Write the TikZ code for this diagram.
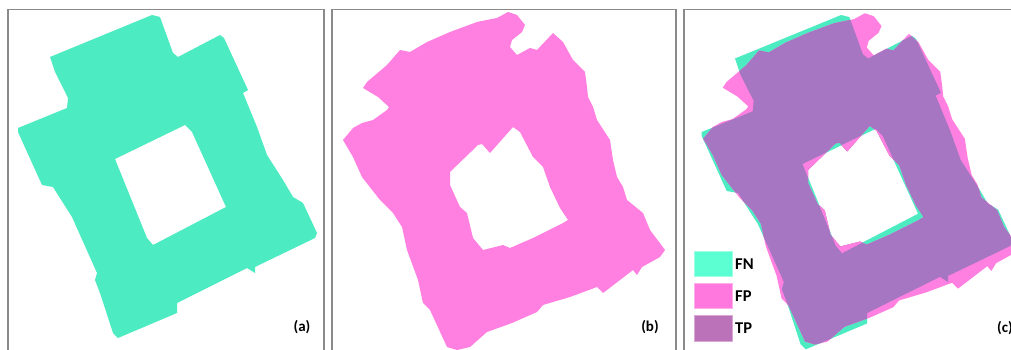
\documentclass[tikz,border=0pt]{standalone}
\usepackage{fontspec}
\setmainfont{Carlito}
\definecolor{tealA}{HTML}{4DEBC1}
\definecolor{pinkB}{HTML}{FF80E0}
\definecolor{purpC}{HTML}{A676C2}
\definecolor{legFN}{HTML}{5BFFD2}
\definecolor{legFP}{HTML}{FF78DD}
\definecolor{legTP}{HTML}{BB72B9}
\definecolor{frameC}{HTML}{8A8A8A}
\tikzset{
  shapeAout/.style={insert path={
    (50,57) -- (152,15) -- (160,17) -- (173,53) -- (178,57) -- (220,35) -- (224,38)
    -- (248,90) -- (243,93) -- (257,127) -- (267,155) -- (283,180) -- (293,197)
    -- (303,203) -- (317,233) -- (315,238) -- (255,267) -- (255,273) -- (247,268)
    -- (177,303) -- (177,313) -- (118,338) -- (113,333) -- (100,293) -- (95,280)
    -- (97,273) -- (72,217) -- (58,195) -- (53,187) -- (42,185) -- (18,132)
    -- (18,128) -- (67,108) -- (68,98) -- (55,72) -- cycle}},
  shapeAhole/.style={insert path={
    (115,159) -- (185,125) -- (192,132) -- (226,207) -- (153,245) -- (147,238) -- cycle}},
  shapeB/.style={insert path={
    (508,12) -- (517,15) -- (525,25) -- (522,32) -- (512,40) -- (510,47) -- (517,55)
    -- (530,48) -- (537,50) -- (553,33) -- (563,42) -- (573,60) -- (585,72) -- (587,87)
    -- (588,97) -- (593,107) -- (597,120) -- (610,140) -- (613,160) -- (617,177)
    -- (623,187) -- (627,200) -- (643,213) -- (650,230) -- (665,250) -- (660,257)
    -- (642,267) -- (637,275) -- (633,270) -- (607,290) -- (603,293) -- (597,287)
    -- (570,297) -- (543,305) -- (537,312) -- (512,323) -- (487,332) -- (470,347)
    -- (457,350) -- (447,347) -- (430,310) -- (423,303) -- (418,280) -- (407,250)
    -- (402,227) -- (393,213) -- (380,200) -- (362,177) -- (353,157) -- (343,140)
    -- (353,128) -- (362,123) -- (373,120) -- (387,110) -- (389,107) -- (378,97)
    -- (363,88) -- (367,82) -- (387,65) -- (400,50) -- (410,52) -- (427,42)
    -- (450,32) -- (477,22) -- (497,18) -- cycle
    (450,172) -- (478,145) -- (482,144) -- (490,153) -- (513,127) -- (520,132)
    -- (533,157) -- (543,167) -- (550,187) -- (560,208) -- (568,220) -- (563,223)
    -- (533,238) -- (510,248) -- (503,245) -- (483,250) -- (473,238) -- (467,213)
    -- (460,207) -- (450,185) -- cycle}},
  frame/.style={draw=frameC, line width=1.2pt},
  panellabel/.style={font=\bfseries\fontsize{15}{18}\selectfont, inner sep=0pt},
  legbox/.style={line width=0.8pt},
  legtext/.style={font=\bfseries\fontsize{16.5}{19}\selectfont, anchor=west, inner sep=0pt},
  Ta/.style={xshift=683pt, yshift=0.5pt, xscale=1.04, yscale=1.035},
  TaInv/.style={xscale=0.961538, yscale=0.966184, xshift=-683pt, yshift=-0.5pt},
  Tb/.style={xshift=367pt, yshift=-1.5pt, xscale=0.98, yscale=0.98},
}
\begin{document}
\begin{tikzpicture}[x=1pt, y=-1pt]
\useasboundingbox (0,0) rectangle (1011,350);
\fill[white] (0,0) rectangle (1011,350);
% panel (a)
\fill[tealA, even odd rule, shapeAout, shapeAhole];
\draw[frame] (8,350) coordinate (a1) -- (8,9.5) coordinate (a2) -- (324,9.5) coordinate (a3) -- (324,350) coordinate (a4);
\node[panellabel] (la) at (302,327) {(a)};
% panel (b)
\fill[pinkB, even odd rule, shapeB];
\draw[frame] (332,350) coordinate (b1) -- (332,9.5) coordinate (b2) -- (676,9.5) coordinate (b3) -- (676,350) coordinate (b4);
\node[panellabel] (lb) at (650,327) {(b)};
% panel (c)
\begin{scope}
  \clip (685,10) rectangle (1011,350);
  \begin{scope}[Ta]
    \fill[tealA, even odd rule, shapeAout, shapeAhole];
  \end{scope}
  \begin{scope}[Tb]
    \fill[pinkB, even odd rule, shapeB];
  \end{scope}
  % TP: b inside a's outline but outside a's hole
  \begin{scope}[Ta]
    \clip[shapeAout];
    \begin{scope}[TaInv, Tb]
      \fill[purpC, even odd rule, shapeB];
    \end{scope}
  \end{scope}
  \begin{scope}[Ta]
    \clip[shapeAhole];
    \begin{scope}[TaInv, Tb]
      \fill[pinkB, even odd rule, shapeB];
    \end{scope}
  \end{scope}
\end{scope}
\draw[frame] (684,350) coordinate (c1) -- (684,9.5) coordinate (c2) -- (1011,9.5) coordinate (c3);
\node[panellabel] (lc) at (1005,328) {(c)};
% legend
\filldraw[legbox, fill=legFN, draw=legFN!60!white] (694,251) rectangle (732,276);
\filldraw[legbox, fill=legFP, draw=legFP!60!white] (694,283) rectangle (732,308);
\filldraw[legbox, fill=legTP, draw=legTP!60!white] (694,315) rectangle (732,341);
\node[legtext] (tfn) at (735,264) {FN};
\node[legtext] (tfp) at (735,296) {FP};
\node[legtext] (ttp) at (735,328) {TP};
\end{tikzpicture}
\end{document}
